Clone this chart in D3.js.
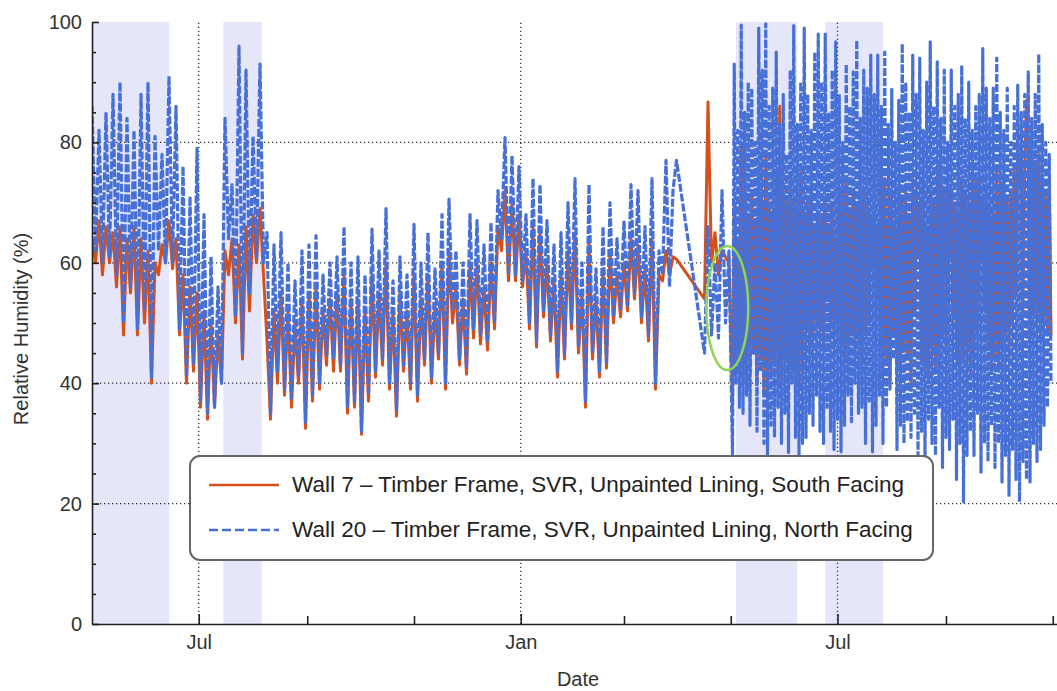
<!DOCTYPE html>
<html>
<head>
<meta charset="utf-8">
<script src="https://cdn.jsdelivr.net/npm/d3@7"></script>
<style>
  body { margin: 0; background: #fff; }
  svg { display: block; font-family: "Liberation Sans", Arial, sans-serif; }
  .axis path, .axis line { stroke: #222; }
  .axis text { fill: #333; }
</style>
</head>
<body>
<script>
// first year: readings every 2 days from 1 May 2013 (alternating highs and lows)
// from 2 May 2014 on: daily readings
const earlyStart = new Date(Date.UTC(2013, 4, 1)), earlyStep = 2
const lateStart = new Date(Date.UTC(2014, 4, 2)), lateStep = 1

// Wall 20 - north facing (blue, dashed)
const wall20Early = [
  86,62,82,60,85,61,88,58,90,50,
  84,56,82,49,88,52,90,41,81,62,
  78,60,91,60,86,49,76,41,71,43,
  79,37,68,35,61,36,56,40,84,64,
  73,51,96,45,92,55,81,61,93,60,
  65,35,63,42,65,39,60,37.5,57,41,
  62,33.5,63,38,64.5,40,58,44.6,60,44,
  61,43,66,36,60,37,61,32,58,38,
  65.6,42,62,44,69,40,57,35.6,61,43,
  58,40,66.4,38,60,44,65,41,59,45,
  68,40,70.6,52,62,44,60,42.5,68,49,
  67,48,63,46.7,66.7,50,72,64,80.8,58,
  77.8,58,76,57,68,50,74,47,73,52,
  67,48,63,42,65,45,70,50,74,46,
  60,37,73,45,59,42,66,43.5,70,51,
  64,52,67,53,73,55,72,51,66,48,
  74,40,62,58,77,56,72,77,null,null,
  null,null,null,null,null,45,66,48,60,47.5,
  72,50,62
]
const wall20Late = [
  28,93,40,82,36,99.5,35,85,38,90,
  33,89,45,80,32,99,42,92,30,99.7,
  28,86,33,89,31,95,36,83,30,88,
  35,78,28.5,92,40,99.4,31,83,28,90,
  30,99,31,88,35,82,33,95,38,98,
  32,90,30,98,36,85,32,92,29,96.7,
  34,88,28.6,80,33,93,38,86,33.6,91.7,
  40,97,35,84,36,92,30,89,37,94.5,
  28.6,88,33,94.5,38,86,30,95,36,83,
  39,89,44,80,29,87,33,96.4,30,90,
  33.6,85,31,94.5,35,88,28,94,32,82,
  27,90,34,96.7,30,86,28,93.4,36,84,
  26,92,31,80,29,92,34,86,24,88,
  30,92.8,20.3,84,28,90,32,82,28,86,
  35,88,25,95.6,30,89,27,84,33,89,
  26,94,30,85,23.6,82,28,89,21.4,80,
  29,86,24,89.5,20.3,85,27,88,24,91.7,
  23.6,84,30,88,27,94.7,29,83,33,80,
  36,78,40
]

// Wall 7 - south facing (red)
const wall7Early = [
  64,60,67,58,66,60,65,56,66,48,
  64,55,66,48,64,50,62,40,60,58,
  63,60,67,59,64,48,58,40,56,42,
  55,36,52,34,50,36,48,40,62,58,
  64,50,63,44,66,52,68,60,69,58,
  47,34,52,40,55,38,52,36,50,40,
  54,32.5,55,37,56,39,52,43,54,42,
  55,42,58,35,54,36,54,31.5,52,37,
  58,41,55,43,60,39,52,34.5,55,42,
  52,39,58,37,54,43,58,40,53,44,
  60,39,62,50,56,43,54,41.5,60,47.5,
  60,46.5,56,45.5,60,49,66,62,72,57,
  70,57,68,56,62,49,66,46,65,51,
  60,47,57,41,58,44,62,49,65,45,
  55,36,64,44,54,41,59,42.5,62,50,
  58,51,60,52,64,54,63,50,59,47,
  64,39,58,57,62,58,61,60.6,null,null,
  null,null,null,null,null,54,86.7,60,65,58,
  62,61,60
]
const wall7Late = [
  36,70,44,64,42,80,40,72,45,68,
  42,72,45,66,40,76,45,70,38,78,
  38,70,42,68,44,75,42,86,40,72,
  44,70,40,74,42,70,38,68,40,75,
  42,68,49,70,45,72,48,66,50,68,
  49,68,46,70,55,66,50,70,48,64,
  50,72,46,66,44,74,42,68,48,72,
  45,70,48,66,44,72,48,70,50,68,
  59,68,55,66,50,83,42,74,44,66,
  40,72,48,66,42,72,40,70,46,72,
  44,68,40,74.5,52,72,61,70,44,74,
  42,66,40,72,46,70,42,76,44,74,
  48,72,46,74.5,61,72,52,70,44,68,
  42,74,44,72,46,70,42,76,44,74,
  48,74,61,70,52,72,46,70,42,68,
  44,76,42,72,46,74,48,70,44,72,
  50,76,55,80,73,78,52,76,87,79,
  48,79,52,76,50,78,48,74,50,72,
  48,74,48
]

// shaded periods
const bands = [
  ["2013-05-01", "2013-06-14"],
  ["2013-07-15", "2013-08-06"],
  ["2014-05-04", "2014-06-08"],
  ["2014-06-24", "2014-07-27"]
]

const seriesNames = [
  "Wall 7 \u2013 Timber Frame, SVR, Unpainted Lining, South Facing",
  "Wall 20 \u2013 Timber Frame, SVR, Unpainted Lining, North Facing"
]
const yTicks = [0, 20, 40, 60, 80, 100]
const xMajor = ["2013-07-01", "2014-01-01", "2014-07-01"]
const xMinor = ["2013-09-01", "2013-11-01", "2014-03-01", "2014-05-01", "2014-09-01", "2014-11-01"]
// highlighted spot (centre date, centre value, half width in days, half height in %)
const highlight = { date: "2014-04-29", value: 52.5, days: 12, span: 10.3 }

const W = 1057, H = 691
const m = { left: 92, right: 1058, top: 22, bottom: 624 }
const red = "#d6501c", blue = "#4670d6"

const svg = d3.select("body").append("svg")
  .attr("width", W)
  .attr("height", H)

const x = d3.scaleUtc()
  .domain([new Date("2013-05-01"), new Date("2014-11-04")])
  .range([m.left, m.right])
const y = d3.scaleLinear()
  .domain([0, 100])
  .range([m.bottom, m.top])

svg.append("clipPath").attr("id", "plot")
  .append("rect")
    .attr("x", m.left).attr("y", m.top)
    .attr("width", m.right - m.left).attr("height", m.bottom - m.top)

// lavender bands
svg.append("g").selectAll("rect")
  .data(bands)
  .enter()
  .append("rect")
    .attr("x", d => x(new Date(d[0])))
    .attr("width", d => x(new Date(d[1])) - x(new Date(d[0])))
    .attr("y", y(100))
    .attr("height", y(0) - y(100))
    .attr("fill", "#e6e6fa")

// dotted grid
const grid = svg.append("g")
  .attr("stroke", "#333")
  .attr("stroke-width", 1.3)
  .attr("stroke-dasharray", "1.3,2.7")
grid.selectAll(".hg")
  .data(yTicks.filter(v => v > 0 && v < 100))
  .enter()
  .append("line")
    .attr("x1", m.left).attr("x2", m.right)
    .attr("y1", d => y(d)).attr("y2", d => y(d))
grid.selectAll(".vg")
  .data(xMajor)
  .enter()
  .append("line")
    .attr("x1", d => x(new Date(d))).attr("x2", d => x(new Date(d)))
    .attr("y1", y(0)).attr("y2", y(100))

function toPoints(early, late) {
  const a = early.map((v, i) => ({ date: d3.utcDay.offset(earlyStart, i * earlyStep), v: v }))
  const b = late.map((v, i) => ({ date: d3.utcDay.offset(lateStart, i * lateStep), v: v }))
  return a.concat(b).filter(d => d.v !== null)
}

const line = d3.line()
  .x(d => x(d.date))
  .y(d => y(d.v))

const data = svg.append("g").attr("clip-path", "url(#plot)")
data.append("path")
  .datum(toPoints(wall7Early, wall7Late))
  .attr("fill", "none")
  .attr("stroke", red)
  .attr("stroke-width", 3)
  .attr("stroke-linejoin", "round")
  .attr("d", line)
data.append("path")
  .datum(toPoints(wall20Early, wall20Late))
  .attr("fill", "none")
  .attr("stroke", blue)
  .attr("stroke-width", 3.2)
  .attr("stroke-dasharray", "8,2")
  .attr("stroke-linejoin", "round")
  .attr("d", line)

// axes, ticks pointing inwards
const fmt = d3.utcFormat("%b")
svg.append("g")
  .attr("class", "axis")
  .attr("transform", `translate(${m.left},0)`)
  .call(d3.axisLeft(y).tickValues(yTicks).tickSize(-7).tickSizeOuter(0).tickPadding(10))
  .call(g => g.selectAll("text").attr("font-size", 20))
svg.append("g")
  .attr("class", "axis")
  .attr("transform", `translate(${m.left},0)`)
  .call(d3.axisLeft(y).tickValues(d3.range(0, 101, 5).filter(v => v % 20)).tickSize(-4).tickSizeOuter(0).tickFormat(""))
  .call(g => g.select(".domain").remove())

svg.append("g")
  .attr("class", "axis")
  .attr("transform", `translate(0,${m.bottom})`)
  .call(d3.axisBottom(x).tickValues(xMajor.map(d => new Date(d))).tickFormat(fmt).tickSize(-10).tickSizeOuter(0).tickPadding(11))
  .call(g => g.selectAll("text").attr("font-size", 20))
svg.append("g")
  .attr("class", "axis")
  .attr("transform", `translate(0,${m.bottom})`)
  .call(d3.axisBottom(x).tickValues(xMinor.map(d => new Date(d))).tickSize(-8).tickSizeOuter(0).tickFormat(""))
  .call(g => g.select(".domain").remove())
svg.selectAll(".axis path, .axis line").attr("stroke-width", 1.6)

svg.append("text")
  .attr("x", (m.left + m.right) / 2 + 3)
  .attr("y", 686)
  .attr("text-anchor", "middle")
  .attr("font-size", 20)
  .attr("fill", "#333")
  .text("Date")
svg.append("text")
  .attr("transform", "translate(28,329) rotate(-90)")
  .attr("text-anchor", "middle")
  .attr("font-size", 20)
  .attr("fill", "#333")
  .text("Relative Humidity (%)")

// green ellipse marking the gap
const hd = new Date(highlight.date)
svg.append("ellipse")
  .attr("cx", x(hd))
  .attr("cy", y(highlight.value))
  .attr("rx", x(d3.utcDay.offset(hd, highlight.days)) - x(hd))
  .attr("ry", y(highlight.value - highlight.span) - y(highlight.value))
  .attr("fill", "none")
  .attr("stroke", "#8fd34e")
  .attr("stroke-width", 2.5)

// legend
const lg = svg.append("g").attr("transform", "translate(190,456)")
lg.append("rect")
  .attr("width", 743).attr("height", 104)
  .attr("rx", 10)
  .attr("fill", "#fff")
  .attr("stroke", "#666")
  .attr("stroke-width", 2)
const items = lg.selectAll(".item")
  .data(seriesNames)
  .enter()
  .append("g")
    .attr("transform", (d, i) => `translate(0,${29 + i * 45})`)
items.append("line")
  .attr("x1", 19).attr("x2", 89)
  .attr("stroke", (d, i) => i ? blue : red)
  .attr("stroke-width", 2.5)
  .attr("stroke-dasharray", (d, i) => i ? "9,4" : null)
items.append("text")
  .attr("x", 102)
  .attr("y", 7)
  .attr("font-size", 22.5)
  .attr("fill", "#222")
  .text(d => d)
</script>
</body>
</html>
